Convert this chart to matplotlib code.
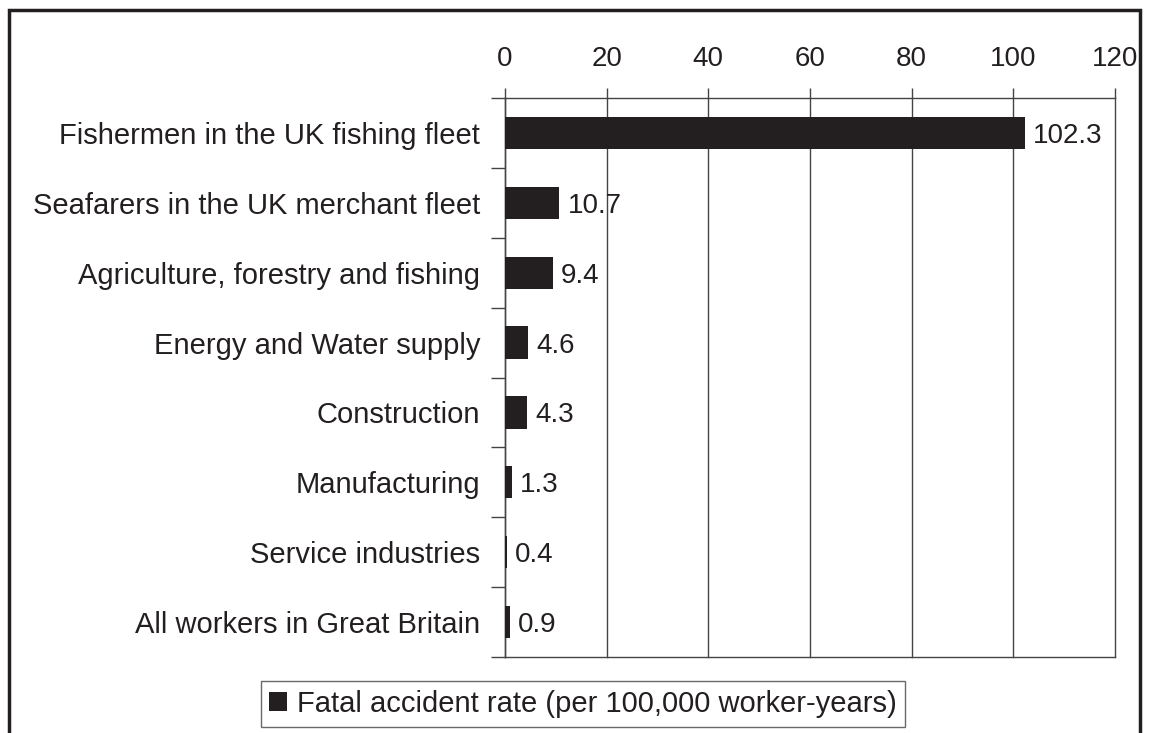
import matplotlib
matplotlib.use("Agg")
import matplotlib.pyplot as plt
from matplotlib.patches import Rectangle

plt.rcParams['font.family'] = ['Liberation Sans', 'DejaVu Sans']

# Data
categories = [
    "Fishermen in the UK fishing fleet",
    "Seafarers in the UK merchant fleet",
    "Agriculture, forestry and fishing",
    "Energy and Water supply",
    "Construction",
    "Manufacturing",
    "Service industries",
    "All workers in Great Britain",
]
rates = [102.3, 10.7, 9.4, 4.6, 4.3, 1.3, 0.4, 0.9]
value_labels = ["102.3", "10.7", "9.4", "4.6", "4.3", "1.3", "0.4", "0.9"]
x_ticks = [0, 20, 40, 60, 80, 100, 120]
series_name = "Fatal accident rate (per 100,000 worker-years)"

ink = "#231f20"
line = "#444444"
W, H = 1149, 733
fig = plt.figure(figsize=(W / 100, H / 100), dpi=100)
ax = fig.add_axes([505 / W, 1 - 657 / H, 610 / W, (657 - 98) / H])

pos = list(range(len(categories)))
bars = ax.barh(pos, rates, height=0.46, color=ink, label=series_name, zorder=3)
ax.set_ylim(len(categories) - 0.5, -0.5)
ax.set_xlim(0, 120)

for p, v, lab in zip(pos, rates, value_labels):
    ax.annotate(lab, (v, p), xytext=(6, 0), textcoords="offset points",
                va="center_baseline", ha="left", fontsize=20, color=ink, zorder=4)

ax.xaxis.tick_top()
ax.set_xticks(x_ticks)
ax.set_xticklabels([str(t) for t in x_ticks], fontsize=20, color=ink)
ax.tick_params(axis="x", direction="out", length=7, width=1, color=line, pad=12)
ax.grid(axis="x", color=line, linewidth=1, zorder=0)
for gl in ax.get_xgridlines():
    gl.set_clip_on(False)

# category labels sit between boundary ticks
ax.set_yticks([i - 0.5 for i in range(len(categories) + 1)])
ax.set_yticklabels([])
ax.set_yticks(pos, minor=True)
ax.set_yticklabels(categories, minor=True, fontsize=21, color=ink)
ax.tick_params(axis="y", which="major", direction="out", length=10, width=1, color=line)
ax.tick_params(axis="y", which="minor", length=0, pad=18)

ax.spines["right"].set_visible(False)
for side in ["top", "bottom", "left"]:
    ax.spines[side].set_color(line)
    ax.spines[side].set_linewidth(1)

leg = fig.legend(handles=[bars], labels=[series_name], loc="center",
                 bbox_to_anchor=(583 / W, 1 - 704 / H), fontsize=21,
                 frameon=True, fancybox=False, handlelength=0.6, handleheight=0.6,
                 handletextpad=0.35, borderpad=0.3, labelcolor=ink)
leg.get_frame().set_edgecolor(line)
leg.get_frame().set_linewidth(1)

# outer chart frame (bottom edge falls outside the image)
fig.patches.append(Rectangle((9 / W, -0.05), (1140 - 9) / W, 1.05 - 10 / H,
                             transform=fig.transFigure, fill=False,
                             edgecolor=ink, linewidth=2.5))

fig.savefig("out.png", dpi=100)
